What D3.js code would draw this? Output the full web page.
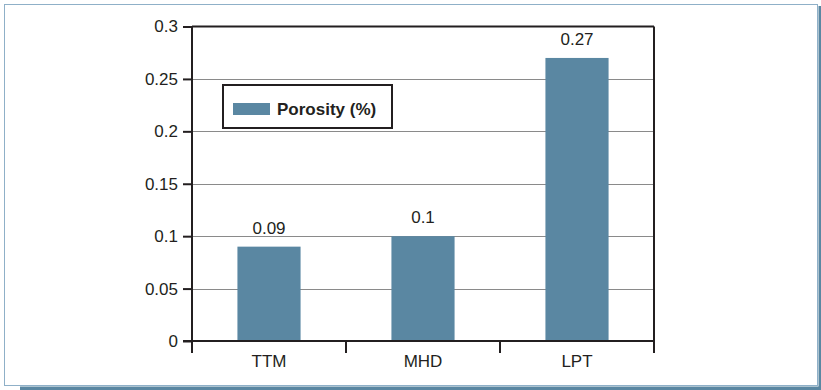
<!DOCTYPE html>
<html>
<head>
<meta charset="utf-8">
<script src="https://cdn.jsdelivr.net/npm/d3@7"></script>
<style>
  html, body { margin: 0; padding: 0; background: #fff; }
  svg { display: block; font-family: "Liberation Sans", Arial, Helvetica, sans-serif; }
</style>
</head>
<body>
<svg id="chart" width="821" height="390"></svg>
<script>
// Porosity by sample type
const categories = ["TTM", "MHD", "LPT"];
const porosity = [0.09, 0.1, 0.27];
const yTicks = [0, 0.05, 0.1, 0.15, 0.2, 0.25, 0.3];
const tickLabels = ["0", "0.05", "0.1", "0.15", "0.2", "0.25", "0.3"];
const seriesName = "Porosity (%)";

const barColor = "#5a87a2";
const inkColor = "#231f20";
const gridColor = "#8a8a8a";

const svg = d3.select("#chart");

// Card frame with a drop shadow on the bottom and right
svg.append("rect").attr("x", 20).attr("y", 386.5).attr("width", 801).attr("height", 3.5).attr("fill", barColor);
svg.append("rect").attr("x", 818.5).attr("y", 6).attr("width", 2.5).attr("height", 384).attr("fill", barColor);
svg.append("rect").attr("x", 4.5).attr("y", 4.5).attr("width", 813).attr("height", 381)
  .attr("fill", "#fff").attr("stroke", "#8fb0c8").attr("stroke-width", 1);

const plot = { left: 192, right: 654, top: 26.5, bottom: 341 };

const y = d3.scaleLinear().domain([0, 0.3]).range([plot.bottom, plot.top]);
const cells = d3.scaleBand().domain(categories).range([plot.left, plot.right]).padding(0);
const x = d3.scaleBand().domain(categories).range([plot.left, plot.right])
  .paddingInner(0.59).paddingOuter(0.295);

// Horizontal gridlines
svg.append("g").selectAll("line")
  .data(yTicks.filter(t => t > 0 && t < 0.3))
  .join("line")
  .attr("x1", plot.left).attr("x2", plot.right)
  .attr("y1", d => Math.round(y(d)) + 0.5).attr("y2", d => Math.round(y(d)) + 0.5)
  .attr("stroke", gridColor).attr("stroke-width", 1);

// Bars
svg.append("g").selectAll("rect")
  .data(categories)
  .join("rect")
  .attr("x", d => x(d))
  .attr("width", x.bandwidth())
  .attr("y", (d, i) => y(porosity[i]))
  .attr("height", (d, i) => y(0) - y(porosity[i]))
  .attr("fill", barColor);

// Value labels
svg.append("g").selectAll("text")
  .data(categories)
  .join("text")
  .attr("x", d => x(d) + x.bandwidth() / 2)
  .attr("y", (d, i) => y(porosity[i]) - 13)
  .attr("text-anchor", "middle")
  .attr("font-size", 17)
  .attr("fill", inkColor)
  .text((d, i) => porosity[i]);

// Plot frame: top and right edges
svg.append("line").attr("x1", plot.left).attr("x2", plot.right)
  .attr("y1", plot.top).attr("y2", plot.top)
  .attr("stroke", inkColor).attr("stroke-width", 2);
svg.append("line").attr("x1", plot.right).attr("x2", plot.right)
  .attr("y1", plot.top).attr("y2", plot.bottom + 12)
  .attr("stroke", inkColor).attr("stroke-width", 2);

// Y axis
const yAxis = d3.axisLeft(y).tickValues(yTicks).tickSize(9).tickPadding(5)
  .tickFormat((d, i) => tickLabels[i]);
const gy = svg.append("g").attr("transform", `translate(${plot.left},0)`).call(yAxis);
gy.select(".domain").remove();
gy.selectAll(".tick line").attr("stroke", inkColor).attr("stroke-width", 2);
gy.selectAll(".tick text").attr("font-size", 17).attr("fill", inkColor)
  .attr("font-family", "Liberation Sans, Arial, sans-serif");
svg.append("line").attr("x1", plot.left).attr("x2", plot.left)
  .attr("y1", plot.top).attr("y2", plot.bottom + 12)
  .attr("stroke", inkColor).attr("stroke-width", 2);

// X axis: baseline, boundary ticks, and category labels
svg.append("line").attr("x1", plot.left - 9).attr("x2", plot.right)
  .attr("y1", y(0)).attr("y2", y(0))
  .attr("stroke", inkColor).attr("stroke-width", 2);
svg.append("g").selectAll("line")
  .data(categories.slice(1))
  .join("line")
  .attr("x1", d => cells(d)).attr("x2", d => cells(d))
  .attr("y1", y(0)).attr("y2", y(0) + 12)
  .attr("stroke", inkColor).attr("stroke-width", 2);
svg.append("g").selectAll("text")
  .data(categories)
  .join("text")
  .attr("x", d => cells(d) + cells.bandwidth() / 2)
  .attr("y", y(0) + 26)
  .attr("text-anchor", "middle")
  .attr("font-size", 17)
  .attr("fill", inkColor)
  .text(d => d);

// Legend
const legend = svg.append("g").attr("transform", "translate(223,85)");
legend.append("rect").attr("width", 169).attr("height", 43)
  .attr("fill", "#fff").attr("stroke", inkColor).attr("stroke-width", 2);
legend.append("rect").attr("x", 10).attr("y", 18).attr("width", 37).attr("height", 12)
  .attr("fill", barColor);
legend.append("text").attr("x", 54).attr("y", 30)
  .attr("font-size", 17).attr("font-weight", "bold").attr("fill", inkColor)
  .text(seriesName);
</script>
</body>
</html>
